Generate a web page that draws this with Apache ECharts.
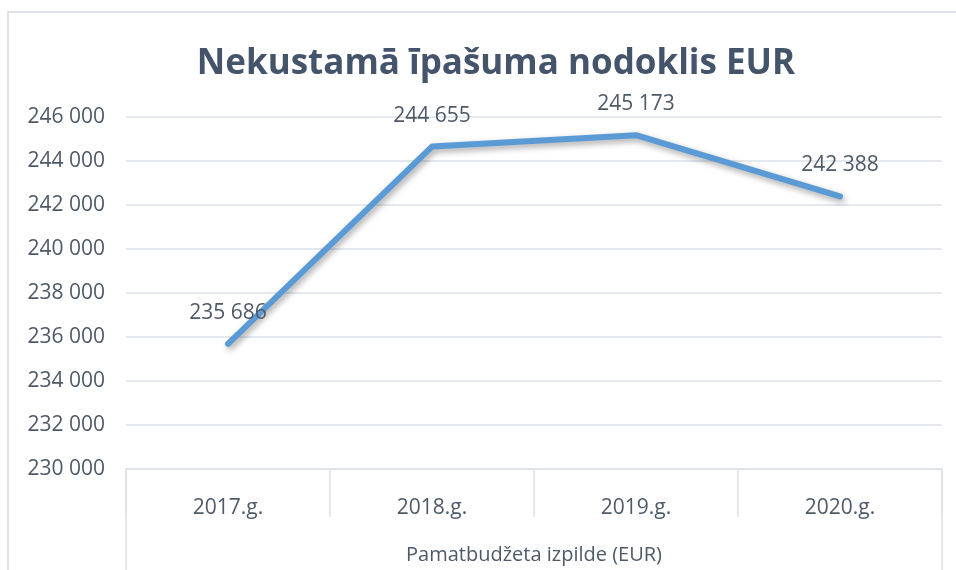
<!DOCTYPE html>
<html>
<head>
<meta charset="utf-8">
<script src="https://cdn.jsdelivr.net/npm/echarts@6/dist/echarts.min.js"></script>
<style>
  html, body { margin: 0; padding: 0; background: #fff; }
  #main { width: 956px; height: 570px; }
</style>
</head>
<body>
<div id="main"></div>
<script>
const years = ['2017.g.', '2018.g.', '2019.g.', '2020.g.']
const values = [235686, 244655, 245173, 242388]
const yMin = 230000
const yMax = 246000
const yStep = 2000

const textColor = '#4f5a69'
const lineColor = '#dde2e8'
const font = 'Open Sans'

// 246000 -> "246 000"
const fmt = v => String(v).replace(/\B(?=(\d{3})+(?!\d))/g, ' ')

const myChart = echarts.init(document.getElementById('main'))
const option = {
  animation: false,
  backgroundColor: '#fff',
  title: {
    text: 'Nekustamā īpašuma nodoklis EUR',
    left: 491,
    top: 42,
    textAlign: 'center',
    textStyle: {
      fontFamily: font,
      fontSize: 35,
      fontWeight: 'bold',
      color: '#44546a'
    }
  },
  grid: {
    left: 126,
    right: 14,
    top: 117,
    bottom: 100
  },
  xAxis: {
    type: 'category',
    data: years,
    boundaryGap: true,
    name: 'Pamatbudžeta izpilde (EUR)',
    nameLocation: 'middle',
    nameGap: 76,
    nameTextStyle: { fontFamily: font, fontSize: 20, color: textColor },
    axisLine: { show: true, lineStyle: { color: lineColor, width: 1.5 } },
    axisTick: { show: true, length: 48, lineStyle: { color: lineColor, width: 1.5 } },
    axisLabel: { margin: 29, fontFamily: font, fontSize: 21, color: textColor }
  },
  yAxis: {
    type: 'value',
    min: yMin,
    max: yMax,
    interval: yStep,
    axisLine: { show: false },
    axisTick: { show: false },
    axisLabel: {
      margin: 21,
      fontFamily: font,
      fontSize: 21,
      color: textColor,
      formatter: fmt
    },
    splitLine: { lineStyle: { color: lineColor, width: 1.5 } }
  },
  series: [
    {
      type: 'line',
      data: values,
      symbol: 'circle',
      symbolSize: 1,
      itemStyle: { color: 'rgba(0,0,0,0)' },
      lineStyle: {
        color: '#5b9bd5',
        width: 6,
        cap: 'round',
        join: 'round',
        shadowColor: 'rgba(0,0,0,0.35)',
        shadowBlur: 6,
        shadowOffsetX: 2,
        shadowOffsetY: 3
      },
      label: {
        show: true,
        position: 'top',
        distance: 20,
        fontFamily: font,
        fontSize: 21,
        color: textColor,
        formatter: p => fmt(p.value)
      }
    }
  ],
  graphic: [
    {
      type: 'polyline',
      shape: { points: [[8, 570], [8, 12], [956, 12]] },
      style: { fill: null, stroke: lineColor, lineWidth: 2 }
    },
    {
      type: 'line',
      shape: { x1: 126, y1: 470, x2: 126, y2: 570 },
      style: { stroke: lineColor, lineWidth: 1.5 }
    },
    {
      type: 'line',
      shape: { x1: 942, y1: 470, x2: 942, y2: 570 },
      style: { stroke: lineColor, lineWidth: 1.5 }
    }
  ]
}
myChart.setOption(option)
</script>
</body>
</html>
